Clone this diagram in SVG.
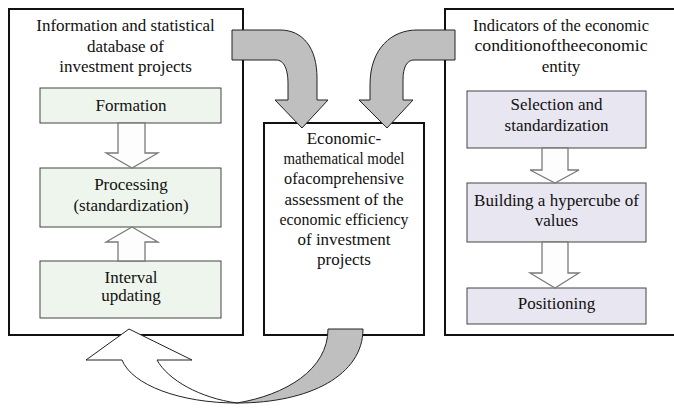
<svg xmlns="http://www.w3.org/2000/svg" width="674" height="408" viewBox="0 0 674 408">
<style>
text{font-size:17px;fill:#111;text-anchor:middle}
.outer{fill:#fff;stroke:#111;stroke-width:2}
.green{fill:#EEF5EC;stroke:#444;stroke-width:1}
.lav{fill:#E8E6F0;stroke:#444;stroke-width:1}
.gray{fill:#BFBFBF;stroke:#222;stroke-width:1}
.hollow{fill:#FDFDFD;stroke:#7a7a7a;stroke-width:1.3}
.white{fill:#fff;stroke:#222;stroke-width:1}
</style>
<rect width="674" height="408" fill="#fff"/>
<g font-family="Liberation Serif, Times New Roman, serif">
<g id="left-panel">
<rect class="outer" x="9" y="9" width="234" height="326"/>
<text x="125.5" y="31">Information and statistical</text>
<text x="125.5" y="52">database of</text>
<text x="125.5" y="72">investment projects</text>
</g>
<g id="formation">
<rect class="green" x="40" y="88" width="181" height="35"/>
<text x="131" y="111">Formation</text>
</g>
<g id="processing">
<rect class="green" x="40" y="168" width="181" height="59"/>
<text x="131" y="190">Processing</text>
<text x="131" y="211">(standardization)</text>
</g>
<g id="interval-updating">
<rect class="green" x="40" y="261" width="181" height="57"/>
<text x="131" y="283">Interval</text>
<text x="131" y="301">updating</text>
</g>
<g id="central-model">
<rect class="outer" x="264" y="123" width="160" height="212"/>
<text x="344" y="144">Economic-</text>
<text x="344" y="164" textLength="121" lengthAdjust="spacingAndGlyphs">mathematical model</text>
<text x="344" y="184" textLength="120" lengthAdjust="spacingAndGlyphs" word-spacing="-4">of a comprehensive</text>
<text x="344" y="205">assessment of the</text>
<text x="344" y="225" textLength="129" lengthAdjust="spacingAndGlyphs">economic efficiency</text>
<text x="344" y="245">of investment</text>
<text x="344" y="265">projects</text>
</g>
<g id="right-panel">
<rect class="outer" x="445" y="9" width="240" height="326"/>
<text x="561" y="31" textLength="176" lengthAdjust="spacingAndGlyphs">Indicators of the economic</text>
<text x="561" y="51" textLength="173" lengthAdjust="spacingAndGlyphs" word-spacing="-4">condition of the economic</text>
<text x="561" y="72">entity</text>
</g>
<g id="selection">
<rect class="lav" x="467" y="91" width="179" height="57"/>
<text x="556.5" y="110">Selection and</text>
<text x="556.5" y="131">standardization</text>
</g>
<g id="hypercube">
<rect class="lav" x="467" y="183" width="179" height="59"/>
<text x="556.5" y="206">Building a hypercube of</text>
<text x="556.5" y="226">values</text>
</g>
<g id="positioning">
<rect class="lav" x="467" y="288" width="179" height="36"/>
<text x="556.5" y="309">Positioning</text>
</g>
</g>
<g id="connectors">
<path class="hollow" d="M118,123 L145,123 L145,153 L158,153 L132,168 L106,153 L118,153 Z"/>
<path class="hollow" d="M132,227 L158,242 L145,242 L145,261 L118,261 L118,242 L106,242 Z"/>
<path class="hollow" d="M542,148 L568,148 L568,170 L579,170 L555,183 L530,170 L542,170 Z"/>
<path class="hollow" d="M542,242 L568,242 L568,273 L579,273 L555,288 L530,273 L542,273 Z"/>
<path class="gray" d="M232,30 L280,30 C303,30 317,48 317,78 L317,100 L328,100 L302,128 L275,100 L288,100 L288,84 C288,69 284,60 276,60 L232,60 Z"/>
<path class="gray" d="M455,30 L417,30 C392,30 370,48 370,85 L370,100 L359,100 L387,128 L413,100 L403,100 L403,80 C403,67 407,60 414,60 L455,60 Z"/>
<path class="white" d="M86,360 L129,329 L192,360 L157,360 C168,380 200,398 237,403 C180,403 132,385 122,360 Z"/>
<path class="gray" d="M328,329 L363,329 C363,375 310,403 237,403 C285,395 328,370 328,329 Z"/>
</g>
</svg>
